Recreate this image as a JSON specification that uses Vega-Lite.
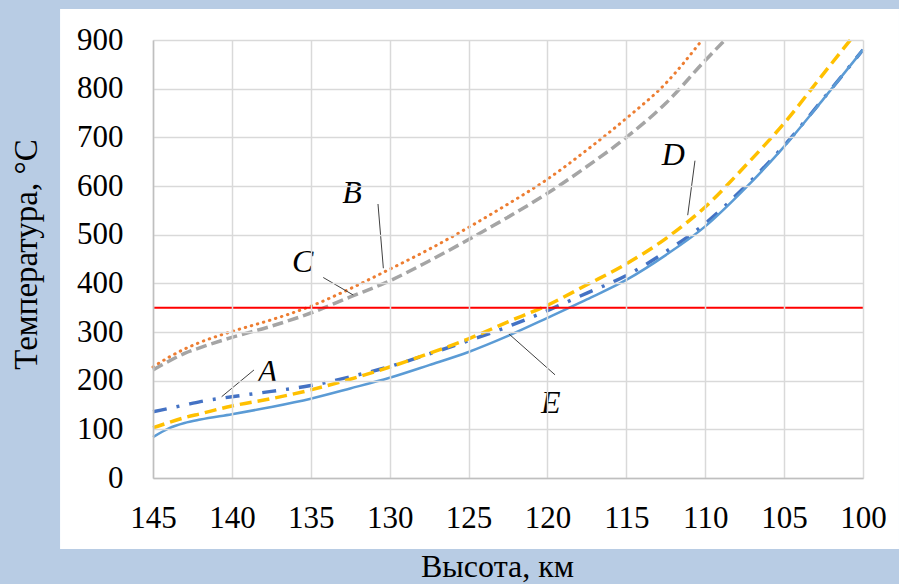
{
  "$schema": "https://vega.github.io/schema/vega-lite/v6.json",
  "width": 710,
  "height": 438,
  "autosize": {"type": "none"},
  "padding": {"left": 153, "top": 40, "right": 36, "bottom": 106},
  "background": "#b8cce4",
  "datasets": {
    "curves": [
      {"series": "A", "h": 145, "t": 136}, {"series": "A", "h": 144, "t": 143}, {"series": "A", "h": 143, "t": 150}, {"series": "A", "h": 142, "t": 157},
      {"series": "A", "h": 140, "t": 167}, {"series": "A", "h": 137.5, "t": 178}, {"series": "A", "h": 135, "t": 190}, {"series": "A", "h": 132.5, "t": 208},
      {"series": "A", "h": 130, "t": 229}, {"series": "A", "h": 127.5, "t": 255}, {"series": "A", "h": 125, "t": 282}, {"series": "A", "h": 122.5, "t": 311},
      {"series": "A", "h": 120, "t": 344}, {"series": "A", "h": 117.5, "t": 380}, {"series": "A", "h": 115, "t": 416}, {"series": "A", "h": 112.5, "t": 465},
      {"series": "A", "h": 110, "t": 523}, {"series": "A", "h": 107.5, "t": 598}, {"series": "A", "h": 105, "t": 683}, {"series": "A", "h": 102.5, "t": 780},
      {"series": "A", "h": 100, "t": 880},
      {"series": "B", "h": 145, "t": 228}, {"series": "B", "h": 144, "t": 248}, {"series": "B", "h": 143, "t": 265}, {"series": "B", "h": 142, "t": 279},
      {"series": "B", "h": 140, "t": 301}, {"series": "B", "h": 137.5, "t": 325}, {"series": "B", "h": 135, "t": 353}, {"series": "B", "h": 132.5, "t": 389},
      {"series": "B", "h": 130, "t": 429}, {"series": "B", "h": 127.5, "t": 470}, {"series": "B", "h": 125, "t": 515}, {"series": "B", "h": 122.5, "t": 563},
      {"series": "B", "h": 120, "t": 614}, {"series": "B", "h": 117.5, "t": 674}, {"series": "B", "h": 115, "t": 739}, {"series": "B", "h": 112.5, "t": 811},
      {"series": "B", "h": 110.2, "t": 900},
      {"series": "C", "h": 145, "t": 222}, {"series": "C", "h": 144, "t": 240}, {"series": "C", "h": 143, "t": 256}, {"series": "C", "h": 142, "t": 268},
      {"series": "C", "h": 140, "t": 289}, {"series": "C", "h": 137.5, "t": 312}, {"series": "C", "h": 135, "t": 339}, {"series": "C", "h": 132.5, "t": 372},
      {"series": "C", "h": 130, "t": 405}, {"series": "C", "h": 127.5, "t": 446}, {"series": "C", "h": 125, "t": 490}, {"series": "C", "h": 122.5, "t": 536},
      {"series": "C", "h": 120, "t": 585}, {"series": "C", "h": 117.5, "t": 640}, {"series": "C", "h": 115, "t": 700}, {"series": "C", "h": 112.5, "t": 770},
      {"series": "C", "h": 110, "t": 858}, {"series": "C", "h": 108.75, "t": 900},
      {"series": "D", "h": 145, "t": 103}, {"series": "D", "h": 144, "t": 114}, {"series": "D", "h": 143, "t": 124}, {"series": "D", "h": 142, "t": 132},
      {"series": "D", "h": 140, "t": 148}, {"series": "D", "h": 137.5, "t": 163}, {"series": "D", "h": 135, "t": 181}, {"series": "D", "h": 132.5, "t": 203},
      {"series": "D", "h": 130, "t": 228}, {"series": "D", "h": 127.5, "t": 256}, {"series": "D", "h": 125, "t": 286}, {"series": "D", "h": 122.5, "t": 321},
      {"series": "D", "h": 120, "t": 355}, {"series": "D", "h": 117.5, "t": 397}, {"series": "D", "h": 115, "t": 440}, {"series": "D", "h": 112.5, "t": 492},
      {"series": "D", "h": 110, "t": 557}, {"series": "D", "h": 107.5, "t": 640}, {"series": "D", "h": 105, "t": 729}, {"series": "D", "h": 102.5, "t": 831},
      {"series": "D", "h": 100.8, "t": 900},
      {"series": "E", "h": 145, "t": 84}, {"series": "E", "h": 144, "t": 102}, {"series": "E", "h": 143, "t": 113}, {"series": "E", "h": 142, "t": 120},
      {"series": "E", "h": 140, "t": 131}, {"series": "E", "h": 137.5, "t": 146}, {"series": "E", "h": 135, "t": 163}, {"series": "E", "h": 132.5, "t": 184},
      {"series": "E", "h": 130, "t": 206}, {"series": "E", "h": 127.5, "t": 232}, {"series": "E", "h": 125, "t": 259}, {"series": "E", "h": 122.5, "t": 292},
      {"series": "E", "h": 120, "t": 329}, {"series": "E", "h": 117.5, "t": 367}, {"series": "E", "h": 115, "t": 407}, {"series": "E", "h": 112.5, "t": 458},
      {"series": "E", "h": 110, "t": 517}, {"series": "E", "h": 107.5, "t": 594}, {"series": "E", "h": 105, "t": 681}, {"series": "E", "h": 102.5, "t": 779},
      {"series": "E", "h": 100, "t": 880}
    ],
    "labels": [
      {"label": "A", "h": 137.74, "t": 218},
      {"label": "B", "h": 132.39, "t": 586},
      {"label": "C", "h": 135.51, "t": 443},
      {"label": "D", "h": 112.02, "t": 663},
      {"label": "E", "h": 119.79, "t": 154}
    ],
    "leaders": [
      {"label": "A", "h": 140.65, "t": 167, "h2": 138.6, "t2": 222},
      {"label": "B", "h": 130.74, "t": 563, "h2": 130.4, "t2": 431},
      {"label": "C", "h": 134.21, "t": 412, "h2": 132.31, "t2": 376},
      {"label": "D", "h": 110.65, "t": 652, "h2": 111.11, "t2": 540},
      {"label": "E", "h": 122.44, "t": 296, "h2": 119.52, "t2": 212}
    ]
  },
  "layer": [
    {
      "data": {"values": [{}]},
      "mark": {"type": "rect", "fill": "#ffffff", "clip": false},
      "encoding": {
        "x": {
          "datum": 150.89, "type": "quantitative",
          "scale": {"domain": [100, 145], "reverse": true, "nice": false, "zero": false},
          "title": "Высота, км",
          "axis": {
            "zindex": 1,
            "values": [145, 140, 135, 130, 125, 120, 115, 110, 105, 100],
            "labelFont": "Liberation Serif",
            "labelPadding": 25,
            "titleFontSize": 32,
            "titleX": 344, "titleY": 88, "titleAlign": "center", "titleBaseline": "middle"
          }
        },
        "x2": {"datum": 97.72},
        "y": {
          "datum": 963.6, "type": "quantitative",
          "scale": {"domain": [0, 900], "nice": false, "zero": false},
          "title": "Температура, °C",
          "axis": {
            "zindex": 1,
            "values": [0, 100, 200, 300, 400, 500, 600, 700, 800, 900],
            "labelFont": "Liberation Serif",
            "labelPadding": 30,
            "titleX": -127, "titleY": 214, "titleAngle": -90, "titleAlign": "center", "titleBaseline": "middle"
          }
        },
        "y2": {"datum": -145.9}
      }
    },
    {
      "data": {"name": "curves"},
      "transform": [{"filter": "datum.series === 'A'"}],
      "mark": {"type": "line", "color": "#4472c4", "strokeWidth": 3.5, "strokeDash": [14, 10, 3, 10], "interpolate": "monotone"},
      "encoding": {
        "x": {"field": "h", "type": "quantitative", "title": "Высота, км", "axis": {"zindex": 1}},
        "y": {"field": "t", "type": "quantitative", "title": "Температура, °C", "axis": {"zindex": 1}}
      }
    },
    {
      "data": {"name": "curves"},
      "transform": [{"filter": "datum.series === 'B'"}],
      "mark": {"type": "line", "color": "#ed7d31", "strokeWidth": 3, "strokeDash": [0.5, 5.8], "strokeCap": "round", "interpolate": "monotone"},
      "encoding": {
        "x": {"field": "h", "type": "quantitative", "title": "Высота, км", "axis": {"zindex": 1}},
        "y": {"field": "t", "type": "quantitative", "title": "Температура, °C", "axis": {"zindex": 1}}
      }
    },
    {
      "data": {"name": "curves"},
      "transform": [{"filter": "datum.series === 'C'"}],
      "mark": {"type": "line", "color": "#a5a5a5", "strokeWidth": 3.5, "strokeDash": [11, 5], "interpolate": "monotone"},
      "encoding": {
        "x": {"field": "h", "type": "quantitative", "title": "Высота, км", "axis": {"zindex": 1}},
        "y": {"field": "t", "type": "quantitative", "title": "Температура, °C", "axis": {"zindex": 1}}
      }
    },
    {
      "data": {"name": "curves"},
      "transform": [{"filter": "datum.series === 'D'"}],
      "mark": {"type": "line", "color": "#ffc000", "strokeWidth": 3.5, "strokeDash": [12, 6], "interpolate": "monotone"},
      "encoding": {
        "x": {"field": "h", "type": "quantitative", "title": "Высота, км", "axis": {"zindex": 1}},
        "y": {"field": "t", "type": "quantitative", "title": "Температура, °C", "axis": {"zindex": 1}}
      }
    },
    {
      "data": {"name": "curves"},
      "transform": [{"filter": "datum.series === 'E'"}],
      "mark": {"type": "line", "color": "#5b9bd5", "strokeWidth": 2.5, "interpolate": "monotone"},
      "encoding": {
        "x": {"field": "h", "type": "quantitative", "title": "Высота, км", "axis": {"zindex": 1}},
        "y": {"field": "t", "type": "quantitative", "title": "Температура, °C", "axis": {"zindex": 1}}
      }
    },
    {
      "data": {"values": [{}]},
      "mark": {"type": "rule", "color": "#ff0000", "strokeWidth": 2},
      "encoding": {
        "y": {"datum": 350, "type": "quantitative", "title": "Температура, °C", "axis": {"zindex": 1}}
      }
    },
    {
      "data": {"name": "leaders"},
      "mark": {"type": "rule", "color": "#404040", "strokeWidth": 1},
      "encoding": {
        "x": {"field": "h", "type": "quantitative", "title": "Высота, км", "axis": {"zindex": 1}},
        "x2": {"field": "h2"},
        "y": {"field": "t", "type": "quantitative", "title": "Температура, °C", "axis": {"zindex": 1}},
        "y2": {"field": "t2"}
      }
    },
    {
      "data": {"name": "labels"},
      "mark": {"type": "text", "font": "Liberation Serif", "fontSize": 32, "fontStyle": "italic", "color": "#000000", "align": "center", "baseline": "middle"},
      "encoding": {
        "x": {"field": "h", "type": "quantitative", "title": "Высота, км", "axis": {"zindex": 1}},
        "y": {"field": "t", "type": "quantitative", "title": "Температура, °C", "axis": {"zindex": 1}},
        "text": {"field": "label"}
      }
    }
  ],
  "config": {
    "view": {"stroke": null},
    "axis": {
      "grid": true,
      "gridColor": "#d9d9d9",
      "gridWidth": 1.5,
      "domainColor": "#bfbfbf",
      "domainWidth": 1.5,
      "ticks": false,
      "tickSize": 0,
      "labelFont": "Liberation Serif",
      "labelFontSize": 31,
      "labelColor": "#000000",
      "labelFlush": false,
      "labelOverlap": false,
      "labelBound": false,
      "titleFont": "Liberation Serif",
      "titleFontSize": 33,
      "titleFontWeight": "normal",
      "titleColor": "#000000"
    }
  }
}
